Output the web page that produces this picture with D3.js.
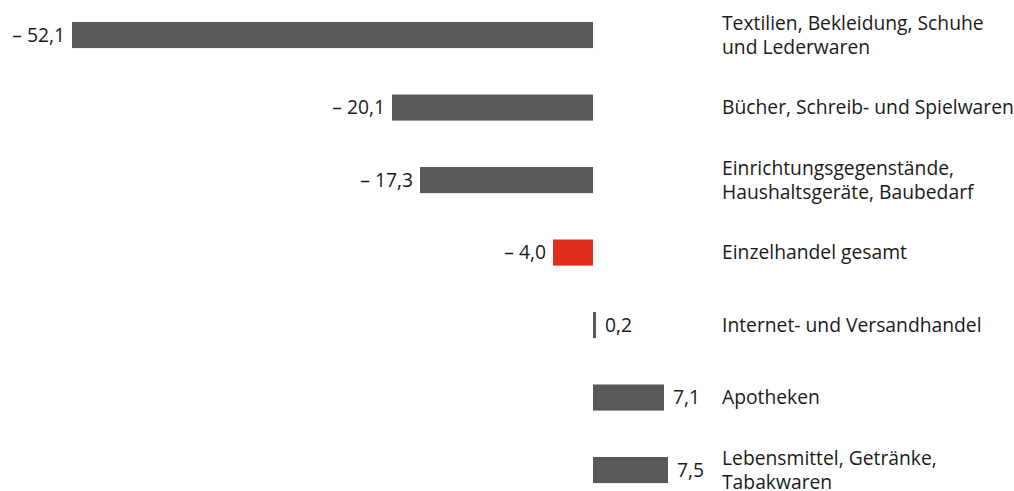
<!DOCTYPE html>
<html><head><meta charset="utf-8">
<script src="https://cdn.jsdelivr.net/npm/d3@7/dist/d3.min.js"></script>
<style>
html,body{margin:0;padding:0;background:#fff;}
svg text{font-family:"Open Sans",sans-serif;fill:#1a1a1a;}
</style></head>
<body>
<svg id="chart" width="1014" height="491"></svg>
<script>
const categories = [
  ["Textilien, Bekleidung, Schuhe", "und Lederwaren"],
  ["Bücher, Schreib- und Spielwaren"],
  ["Einrichtungsgegenstände,", "Haushaltsgeräte, Baubedarf"],
  ["Einzelhandel gesamt"],
  ["Internet- und Versandhandel"],
  ["Apotheken"],
  ["Lebensmittel, Getränke,", "Tabakwaren"]
];
const values = [-52.1, -20.1, -17.3, -4.0, 0.2, 7.1, 7.5];
const highlight = [false, false, false, true, false, false, false];

const svg = d3.select("#chart");
const x = d3.scaleLinear().domain([-55, 10]).range([43, 693]);
const ids = categories.map((c, i) => i);
const y = d3.scaleBand().domain(ids).range([22, 483.1]).paddingInner(0.64).paddingOuter(0);

const fmt = v => (v < 0 ? "\u2013 " : "") + Math.abs(v).toFixed(1).replace(".", ",");
const fs = "19.3px";

const g = svg.append("g");
g.selectAll("rect").data(values).join("rect")
  .attr("x", d => Math.min(x(d), x(0)))
  .attr("width", d => Math.max(Math.abs(x(d) - x(0)), 3))
  .attr("y", (d, i) => y(i))
  .attr("height", y.bandwidth())
  .attr("fill", (d, i) => highlight[i] ? "#e02b1f" : "#5a5958");

g.selectAll("text.val").data(values).join("text")
  .attr("class", "val")
  .attr("x", d => d < 0 ? x(d) - 7 : Math.max(x(d), x(0) + 3) + 9)
  .attr("y", (d, i) => y(i) + y.bandwidth() / 2)
  .attr("dy", "0.35em")
  .attr("text-anchor", d => d < 0 ? "end" : "start")
  .style("font-size", fs)
  .text(fmt);

const lh = 24.5;
const lab = g.selectAll("text.cat").data(categories).join("text")
  .attr("class", "cat")
  .attr("x", 722)
  .attr("y", (d, i) => y(i) + y.bandwidth() / 2)
  .style("font-size", fs);
lab.each(function(lines) {
  const t = d3.select(this);
  const y0 = +t.attr("y");
  lines.forEach((ln, k) => {
    t.append("tspan").attr("x", 722)
      .attr("y", y0 + (k - (lines.length - 1) / 2) * lh)
      .attr("dy", "0.35em").text(ln);
  });
});
</script>
</body></html>
